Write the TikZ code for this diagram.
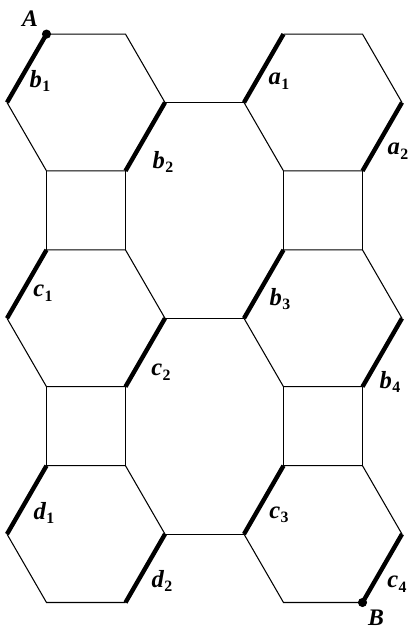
\documentclass[tikz,border=0pt]{standalone}
\usepackage{fontspec}
\setmainfont{Liberation Serif}
\newcommand{\lab}[2]{\fontsize{14}{16}\selectfont\bfseries\itshape #1\kern0.2pt\raisebox{-0.4ex}{\fontsize{9}{10}\selectfont\upshape #2}}
\newcommand{\ptlab}[1]{\fontsize{13.5}{15}\selectfont\bfseries\itshape #1}
\begin{document}
\begin{tikzpicture}[x=0.02cm,y=-0.02cm,
  thinedge/.style={line width=0.6pt},
  thickedge/.style={line width=2.5pt},
  lbl/.style={inner sep=0pt}]
\useasboundingbox (0,0) rectangle (410,629);
\foreach \n/\cx/\cy in {h1/86/102.5, h2/323/102.5, h3/86/318.3, h4/323/318.3, h5/86/534.1, h6/323/534.1} {
  \coordinate (\n-1) at (\cx-39.5,\cy-68.4);
  \coordinate (\n-2) at (\cx+39.5,\cy-68.4);
  \coordinate (\n-3) at (\cx+79,\cy);
  \coordinate (\n-4) at (\cx+39.5,\cy+68.4);
  \coordinate (\n-5) at (\cx-39.5,\cy+68.4);
  \coordinate (\n-6) at (\cx-79,\cy);
}
\foreach \n in {h1,h2,h3,h4,h5,h6} {
  \draw[thinedge] (\n-1) -- (\n-2) -- (\n-3);
  \draw[thinedge] (\n-4) -- (\n-5) -- (\n-6);
  \draw[thickedge] (\n-6) -- (\n-1);
  \draw[thickedge] (\n-3) -- (\n-4);
}
% squares
\draw[thinedge] (h1-5) -- (h3-1) (h1-4) -- (h3-2);
\draw[thinedge] (h2-5) -- (h4-1) (h2-4) -- (h4-2);
\draw[thinedge] (h3-5) -- (h5-1) (h3-4) -- (h5-2);
\draw[thinedge] (h4-5) -- (h6-1) (h4-4) -- (h6-2);
% horizontal links
\draw[thinedge] (h1-3) -- (h2-6);
\draw[thinedge] (h3-3) -- (h4-6);
\draw[thinedge] (h5-3) -- (h6-6);
% endpoints
\fill (h1-1) circle (2.6pt);
\fill (h6-4) circle (2.6pt);
\node[lbl] (A) at (30,19) {\ptlab{A}};
\node[lbl] (B) at (376,618) {\ptlab{B}};
\node[lbl] (b1) at (40,81) {\lab{b}{1}};
\node[lbl] (b2) at (163,162) {\lab{b}{2}};
\node[lbl] (a1) at (279,81) {\lab{a}{1}};
\node[lbl] (a2) at (398,151) {\lab{a}{2}};
\node[lbl] (c1) at (43,293) {\lab{c}{1}};
\node[lbl] (c2) at (161,372) {\lab{c}{2}};
\node[lbl] (b3) at (280,299) {\lab{b}{3}};
\node[lbl] (b4) at (390,382) {\lab{b}{4}};
\node[lbl] (d1) at (44,513) {\lab{d}{1}};
\node[lbl] (d2) at (162,581) {\lab{d}{2}};
\node[lbl] (c3) at (279,515) {\lab{c}{3}};
\node[lbl] (c4) at (397,584) {\lab{c}{4}};
\end{tikzpicture}
\end{document}
